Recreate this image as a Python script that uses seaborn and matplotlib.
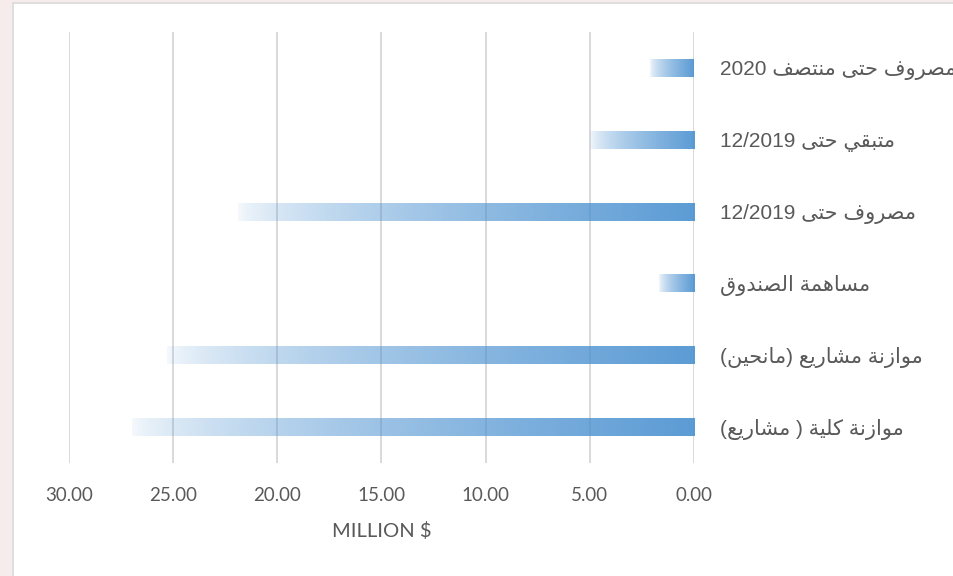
import numpy as np
import pandas as pd
import matplotlib
matplotlib.use("Agg")
import matplotlib.pyplot as plt
import seaborn as sns
from matplotlib.patches import Rectangle
from matplotlib.lines import Line2D

# ---------------- data ----------------
categories = [
    "مصروف حتى منتصف 2020",
    "متبقي حتى 12/2019",
    "مصروف حتى 12/2019",
    "مساهمة الصندوق",
    "موازنة مشاريع (مانحين)",
    "موازنة كلية ( مشاريع)",
]
values = [2.1, 5.0, 21.9, 1.7, 25.3, 27.0]
x_ticks = [0, 5, 10, 15, 20, 25, 30]
x_label = "MILLION $"

# ---------------- minimal Arabic shaping ----------------
FORMS = {
    '\u0627': (0xFE8D, 0xFE8E, None, None),
    '\u0628': (0xFE8F, 0xFE90, 0xFE91, 0xFE92),
    '\u0629': (0xFE93, 0xFE94, None, None),
    '\u062A': (0xFE95, 0xFE96, 0xFE97, 0xFE98),
    '\u062B': (0xFE99, 0xFE9A, 0xFE9B, 0xFE9C),
    '\u062C': (0xFE9D, 0xFE9E, 0xFE9F, 0xFEA0),
    '\u062D': (0xFEA1, 0xFEA2, 0xFEA3, 0xFEA4),
    '\u062E': (0xFEA5, 0xFEA6, 0xFEA7, 0xFEA8),
    '\u062F': (0xFEA9, 0xFEAA, None, None),
    '\u0630': (0xFEAB, 0xFEAC, None, None),
    '\u0631': (0xFEAD, 0xFEAE, None, None),
    '\u0632': (0xFEAF, 0xFEB0, None, None),
    '\u0633': (0xFEB1, 0xFEB2, 0xFEB3, 0xFEB4),
    '\u0634': (0xFEB5, 0xFEB6, 0xFEB7, 0xFEB8),
    '\u0635': (0xFEB9, 0xFEBA, 0xFEBB, 0xFEBC),
    '\u0636': (0xFEBD, 0xFEBE, 0xFEBF, 0xFEC0),
    '\u0637': (0xFEC1, 0xFEC2, 0xFEC3, 0xFEC4),
    '\u0638': (0xFEC5, 0xFEC6, 0xFEC7, 0xFEC8),
    '\u0639': (0xFEC9, 0xFECA, 0xFECB, 0xFECC),
    '\u063A': (0xFECD, 0xFECE, 0xFECF, 0xFED0),
    '\u0641': (0xFED1, 0xFED2, 0xFED3, 0xFED4),
    '\u0642': (0xFED5, 0xFED6, 0xFED7, 0xFED8),
    '\u0643': (0xFED9, 0xFEDA, 0xFEDB, 0xFEDC),
    '\u0644': (0xFEDD, 0xFEDE, 0xFEDF, 0xFEE0),
    '\u0645': (0xFEE1, 0xFEE2, 0xFEE3, 0xFEE4),
    '\u0646': (0xFEE5, 0xFEE6, 0xFEE7, 0xFEE8),
    '\u0647': (0xFEE9, 0xFEEA, 0xFEEB, 0xFEEC),
    '\u0648': (0xFEED, 0xFEEE, None, None),
    '\u0649': (0xFEEF, 0xFEF0, None, None),
    '\u064A': (0xFEF1, 0xFEF2, 0xFEF3, 0xFEF4),
}


def shape_arabic(text):
    # lam-alef ligature
    chars = []
    i = 0
    while i < len(text):
        if text[i] == '\u0644' and i + 1 < len(text) and text[i + 1] == '\u0627':
            chars.append('LA')
            i += 2
        else:
            chars.append(text[i])
            i += 1

    def joins_left(c):
        return c in FORMS and FORMS[c][2] is not None

    def is_ar(c):
        return c in FORMS or c == 'LA'

    out = []
    for k, c in enumerate(chars):
        prev = chars[k - 1] if k > 0 else None
        nxt = chars[k + 1] if k + 1 < len(chars) else None
        cp = prev is not None and joins_left(prev)
        if c == 'LA':
            out.append(chr(0xFEFC if cp else 0xFEFB))
            continue
        if c not in FORMS:
            out.append(c)
            continue
        iso, fin, ini, med = FORMS[c]
        cn = ini is not None and nxt is not None and is_ar(nxt)
        if cp and cn:
            out.append(chr(med))
        elif cp:
            out.append(chr(fin))
        elif cn:
            out.append(chr(ini))
        else:
            out.append(chr(iso))
    s = ''.join(out)[::-1]
    s = s.translate(str.maketrans({'(': ')', ')': '('}))
    # restore LTR order of digit runs
    res, run = [], ''
    for ch in s:
        if ch.isdigit() or (run and ch in './'):
            run += ch
        else:
            if run:
                res.append(run[::-1])
                run = ''
            res.append(ch)
    if run:
        res.append(run[::-1])
    return ''.join(res)


# ---------------- figure ----------------
sns.set_theme(style="white")
plt.rcParams['font.family'] = ['Liberation Sans', 'DejaVu Sans']

W, H = 954, 576
fig = plt.figure(figsize=(W / 100, H / 100), dpi=100, facecolor='white')

# outer pinkish frame and gray border
fig.patches.append(Rectangle((0, 0), 12.5 / W, 1, transform=fig.transFigure,
                             facecolor='#f7ecec', edgecolor='none', zorder=-10))
fig.patches.append(Rectangle((0, 1 - 2.5 / H), 1, 2.5 / H, transform=fig.transFigure,
                             facecolor='#f7ecec', edgecolor='none', zorder=-10))
fig.lines.append(Line2D([13.2 / W, 13.2 / W], [0, 1 - 3.2 / H], transform=fig.transFigure,
                        color='#d9d9d9', lw=1.2))
fig.lines.append(Line2D([13.2 / W, 1], [1 - 3.2 / H, 1 - 3.2 / H], transform=fig.transFigure,
                        color='#d9d9d9', lw=1.2))

ax = fig.add_axes([69 / W, 1 - 463 / H, (694 - 69) / W, (463 - 32) / H])
ax.set_facecolor('none')

df = pd.DataFrame({'category': categories, 'value': values})
sns.barplot(data=df, x='value', y='category', orient='h', width=0.25,
            color='#5b9bd5', ax=ax, errorbar=None)

# gradient fill for each bar
base = np.array([73, 144, 208]) / 255.0
N = 256
tpos = 1 - (np.arange(N) + 0.5) / N          # 1 at value 0 (right), 0 at bar tip (left)
alpha = 0.9 * (0.05 + 0.95 * tpos ** 0.65)
grad = np.zeros((1, N, 4))
grad[0, :, :3] = base
grad[0, :, 3] = alpha

for p in list(ax.patches):
    x0, y0, w, h = p.get_x(), p.get_y(), p.get_width(), p.get_height()
    p.set_visible(False)
    ax.imshow(grad, extent=(x0, x0 + w, y0 + h, y0), aspect='auto',
              interpolation='bilinear', zorder=2)

ax.set_xlim(30, 0)
ax.set_ylim(len(categories) - 0.5, -0.5)
ax.set_xticks(x_ticks)
ax.set_xticklabels([f"{v:.2f}" for v in x_ticks], fontfamily='Lato',
                   fontsize=13.5, color='#595959')
ax.grid(axis='x', color='#d9d9d9', lw=1.4, zorder=1)
ax.grid(axis='y', visible=False)
ax.set_axisbelow(True)
for s in ax.spines.values():
    s.set_visible(False)

ax.tick_params(axis='x', length=0, pad=17)
ax.tick_params(axis='y', length=0, left=False, right=False,
               labelleft=False, labelright=True, pad=19)
ax.set_yticks(range(len(categories)))
ax.set_yticklabels([shape_arabic(c) for c in categories],
                   fontsize=15, color='#595959')
for lab in ax.get_yticklabels():
    lab.set_fontfamily(['Liberation Sans', 'DejaVu Sans'])
    lab.set_horizontalalignment('left')

ax.set_ylabel('')
ax.set_xlabel(x_label, fontfamily='Lato', fontsize=14.5, color='#595959', labelpad=13)

fig.savefig('out.png', dpi=100, facecolor='white')
